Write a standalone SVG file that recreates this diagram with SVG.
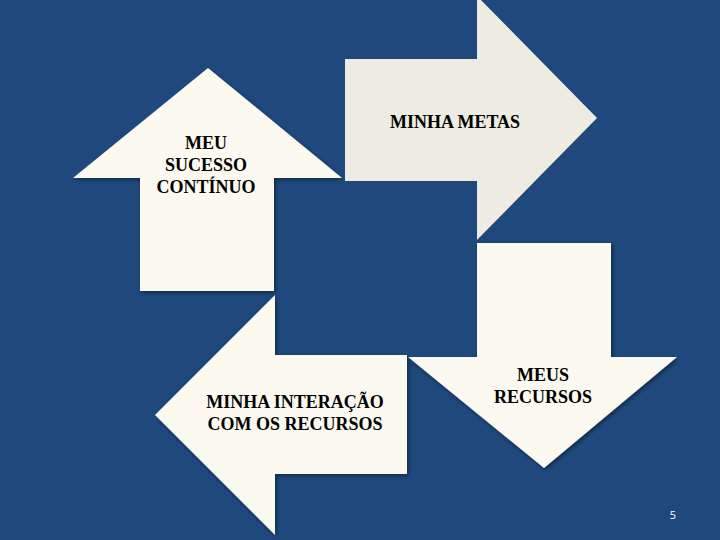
<svg xmlns="http://www.w3.org/2000/svg" width="720" height="540" viewBox="0 0 720 540">
<defs>
<filter id="sh" x="-20%" y="-20%" width="140%" height="140%">
<feDropShadow dx="1.5" dy="2" stdDeviation="2" flood-color="#000" flood-opacity="0.45"/>
</filter>
<style>
.a{fill:#FCFAF0;filter:url(#sh)}
.b{fill:#EEECE2}
.t{font-family:"Liberation Serif","Times New Roman",serif;font-size:18px;font-weight:bold;fill:#000;text-anchor:middle}
.p{font-family:"Open Sans","Liberation Sans",sans-serif;font-size:11px;fill:#fff;text-anchor:middle}
</style>
</defs>
<rect width="720" height="540" fill="#1F497D"/>
<g id="arrow-up">
<polygon class="a" points="208,68 342,178 274,178 274,291 140,291 140,178 73,178"/>
<text class="t" x="206" y="149">MEU</text>
<text class="t" x="206" y="171">SUCESSO</text>
<text class="t" x="206" y="193">CONTÍNUO</text>
</g>
<g id="arrow-right">
<polygon class="b" points="345,59 477,59 477,-4 597,118 477,240 477,181 345,181"/>
<text class="t" x="455" y="128">MINHA METAS</text>
</g>
<g id="arrow-down">
<polygon class="a" points="477,243 611,243 611,357 677,357 544,468 408,357 477,357"/>
<text class="t" x="543" y="381">MEUS</text>
<text class="t" x="543" y="403">RECURSOS</text>
</g>
<g id="arrow-left">
<polygon class="a" points="155,415 275,295 275,355 407,355 407,474 275,474 275,535"/>
<text class="t" x="295" y="408">MINHA INTERAÇÃO</text>
<text class="t" x="295" y="430">COM OS RECURSOS</text>
</g>
<g id="connectors"></g>
<text class="p" x="673" y="519">5</text>
</svg>
